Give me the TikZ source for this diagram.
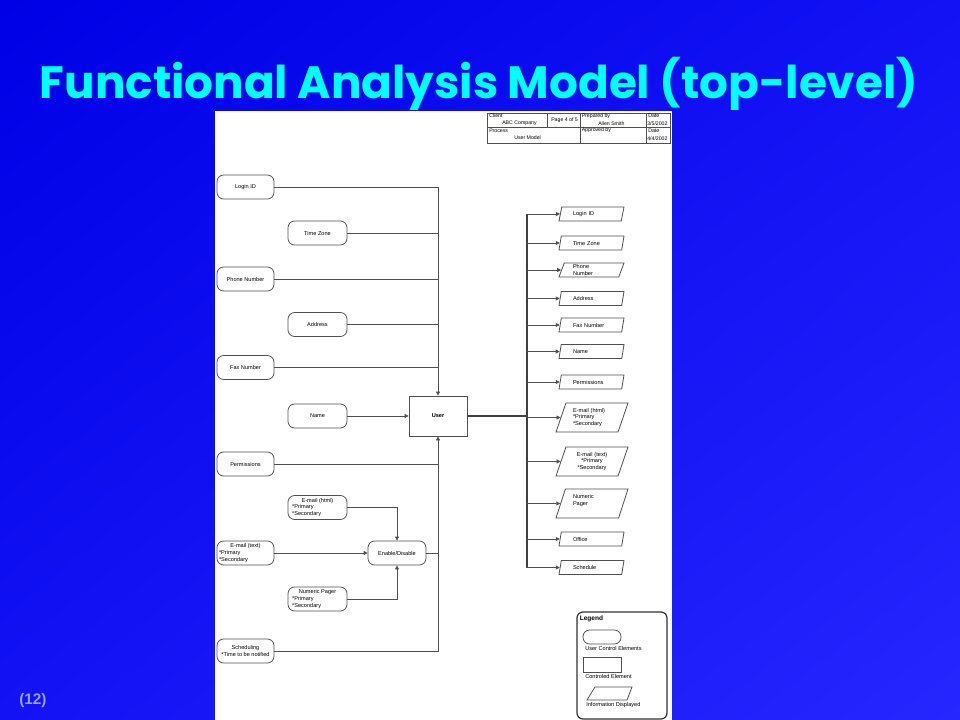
\documentclass[tikz,border=0pt]{standalone}
\usepackage{fontspec}
\setmainfont{Liberation Sans}
\newfontfamily\titlefont{Poppins}
\usetikzlibrary{shapes.geometric,arrows.meta,shadings}
\definecolor{bgA}{RGB}{0,0,230}
\definecolor{bgM}{RGB}{18,18,245}
\definecolor{bgB}{RGB}{38,38,255}
\definecolor{ln}{RGB}{80,80,80}
\definecolor{titlecol}{RGB}{0,255,255}
\definecolor{numcol}{RGB}{150,160,225}
\newcommand\dfont{\fontsize{4.2}{5.2}\selectfont}
\newcommand\hfont{\fontsize{3.9}{4.5}\selectfont}
\tikzset{
  conn/.style={draw=ln, line width=0.6pt},
  arr/.style={-{Triangle[length=3pt,width=3pt]}},
  busline/.style={draw=black!75, line width=0.9pt},
  ucel/.style={draw=ln, line width=0.6pt, fill=white, rounded corners=5pt,
    minimum width=42.75pt, minimum height=18pt, inner sep=0pt, font=\dfont, align=center},
  ucer/.style={ucel, minimum width=44.25pt},
  ctrl/.style={draw=ln, line width=0.6pt, fill=white, minimum width=43.5pt,
    minimum height=30pt, inner sep=0pt, font=\dfont},
  info/.style={draw=ln, line width=0.6pt, fill=white, trapezium,
    trapezium left angle=67, trapezium right angle=113, trapezium stretches body,
    minimum width=48.75pt, minimum height=10.5pt, inner xsep=1pt, inner ysep=0.5pt,
    text width=27.75pt, align=left, font=\dfont},
  infobig/.style={info, trapezium left angle=64, trapezium right angle=116,
    minimum width=54pt, minimum height=21.75pt, text width=28.5pt},
  htext/.style={anchor=west, inner sep=0pt, font=\hfont},
  ltext/.style={anchor=west, inner sep=0pt, font=\dfont},
}
\begin{document}
\begin{tikzpicture}[x=0.75pt,y=-0.75pt]
\useasboundingbox (0,0) rectangle (960,720);
\shade[upper left=bgA, upper right=bgM, lower left=bgM, lower right=bgB] (0,0) rectangle (960,720);
% page
\fill[white] (215,111) rectangle (672,720);
% title
\node[anchor=base, text=titlecol, inner sep=0pt] (title) at (479,99)
  {\resizebox{658.5pt}{!}{\titlefont\bfseries Functional Analysis Model (top-level)}};
\node[anchor=base west, text=numcol, inner sep=0pt, font=\fontsize{11.5}{13}\selectfont\bfseries] (pgnum) at (19,704) {(12)};
% header table
\draw[ln, line width=0.4pt] (487,113) rectangle (670,143);
\draw[ln, line width=0.4pt] (487,127) -- (670,127);
\draw[ln, line width=0.4pt] (547,113) -- (547,127);
\draw[ln, line width=0.4pt] (580,113) -- (580,143);
\draw[ln, line width=0.4pt] (646,113) -- (646,143);
\node[htext] (h1) at (489,116) {Client};
\node[htext] (h2) at (502,123.5) {ABC Company};
\node[htext] (h3) at (551,120) {Page 4 of 5};
\node[htext] (h4) at (581.5,116) {Prepared by};
\node[htext] (h5) at (598,123.5) {Allen Smith};
\node[htext] (h6) at (648,116) {Date};
\node[htext] (h7) at (647,123.5) {3/5/2002};
\node[htext] (h8) at (489,130.5) {Process};
\node[htext] (h9) at (514,138) {User Model};
\node[htext] (h10) at (581.5,130.5) {Approved by};
\node[htext] (h11) at (648,130.5) {Date};
\node[htext] (h12) at (647,138.5) {4/4/2002};
% left user control elements
\node[ucel] (login) at (245.5,187) {Login ID};
\node[ucer] (tz) at (317.5,233) {Time Zone};
\node[ucel] (phone) at (245.5,279) {Phone Number};
\node[ucer] (addr) at (317.5,324.5) {Address};
\node[ucel] (fax) at (245.5,367.5) {Fax Number};
\node[ucer] (name) at (317.5,416) {Name};
\node[ucel] (perm) at (245.5,464) {Permissions};
\node[ucer] (emhtml) at (317.5,507.5) {E-mail (html)\\\makebox[38pt][l]{*Primary}\\\makebox[38pt][l]{*Secondary}};
\node[ucel] (emtext) at (245.5,553) {E-mail (text)\\\makebox[39.75pt][l]{*Primary}\\\makebox[39.75pt][l]{*Secondary}};
\node[ucer] (pager) at (317.5,599) {Numeric Pager\\\makebox[38pt][l]{*Primary}\\\makebox[38pt][l]{*Secondary}};
\node[ucel] (sched) at (245.5,651) {Scheduling\\{}*Time to be notified};
\node[ucel, minimum width=43.5pt] (enable) at (397,553) {Enable/Disable};
\node[ctrl] (user) at (438,416) {\bfseries User};
% left connectors
\draw[conn,arr] (login.east) -| (user.north);
\foreach \n in {tz,phone,addr,fax} \draw[conn] (\n.east) -- (\n.east -| user.north);
\draw[conn,arr] (name.east) -- (user.west);
\draw[conn,arr] (sched.east) -| (user.south);
\foreach \n in {perm,enable} \draw[conn] (\n.east) -- (\n.east -| user.south);
\draw[conn,arr] (emhtml.east) -| (enable.north);
\draw[conn,arr] (emtext.east) -- (enable.west);
\draw[conn,arr] (pager.east) -| (enable.south);
% right information displayed
\node[info] (rlogin) at (591.5,214) {Login ID};
\node[info] (rtz) at (591.5,243) {Time Zone};
\node[info] (rphone) at (591.5,270) {Phone\\Number};
\node[info] (raddr) at (591.5,298.5) {Address};
\node[info] (rfax) at (591.5,325) {Fax Number};
\node[info] (rname) at (591.5,351.5) {Name};
\node[info] (rperm) at (591.5,382) {Permissions};
\node[infobig] (remhtml) at (592,417.5) {E-mail (html)\\{}*Primary\\{}*Secondary};
\node[infobig, align=center] (remtext) at (592,461.5) {E-mail (text)\\{}*Primary\\{}*Secondary};
\node[infobig] (rpager) at (592,503.5) {Numeric\\Pager\\~};
\node[info] (roffice) at (591.5,539) {Office};
\node[info] (rsched) at (591.5,567.5) {Schedule};
\coordinate (bus) at (527,416);
\draw[busline] (user.east) -- (bus);
\draw[busline] (rlogin.west -| bus) -- (rsched.west -| bus);
\foreach \n in {rlogin,rtz,rphone,raddr,rfax,rname,rperm,remhtml,remtext,rpager,roffice,rsched}
  \draw[conn,arr] (\n.west -| bus) -- (\n.west);
% legend
\draw[black!80, line width=0.9pt, rounded corners=4.5pt] (577,612) rectangle (667,719);
\node[anchor=west, inner sep=0pt, font=\fontsize{4.9}{5.5}\selectfont\bfseries] (lg) at (579.5,619) {Legend};
\draw[ln, line width=0.6pt, rounded corners=5pt] (583,630) rectangle (621,644);
\node[ltext] (lg1) at (585,648.5) {User Control Elements};
\draw[ln, line width=0.6pt] (583,657) rectangle (621,672);
\node[ltext] (lg2) at (585,676.5) {Controled Element};
\draw[ln, line width=0.6pt] (587,700) -- (595,687) -- (632,687) -- (627,700) -- cycle;
\node[ltext] (lg3) at (586,705.5) {Information Displayed};
\end{tikzpicture}
\end{document}
